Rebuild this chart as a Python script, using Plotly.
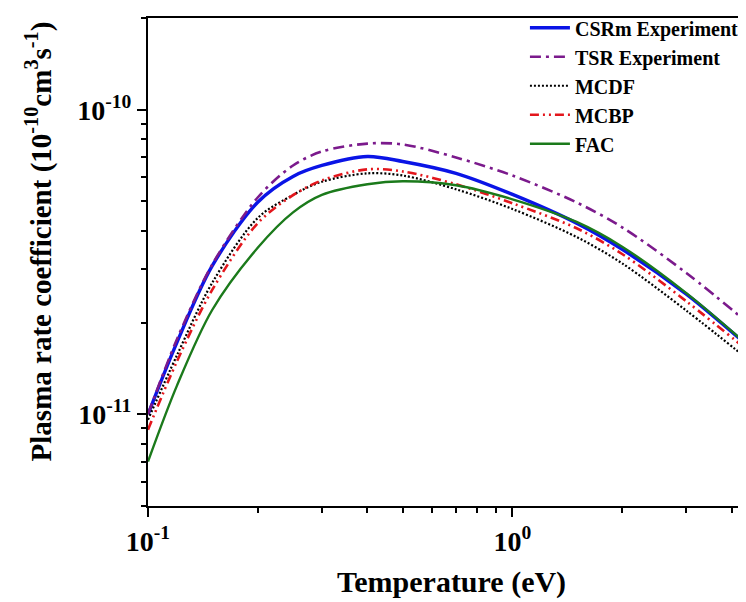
import plotly.graph_objects as go

temperature = [0.1, 0.12, 0.15, 0.2, 0.25, 0.3, 0.4, 0.5, 0.7, 1.0, 1.5, 2.0, 3.0, 4.6]

csrm = [1.00e-11, 1.72e-11, 3.07e-11, 4.97e-11, 6.04e-11, 6.56e-11, 7.02e-11, 6.76e-11,
        6.18e-11, 5.27e-11, 4.24e-11, 3.48e-11, 2.48e-11, 1.61e-11]
tsr = [1.00e-11, 1.76e-11, 3.10e-11, 5.15e-11, 6.56e-11, 7.29e-11, 7.74e-11, 7.69e-11,
       6.97e-11, 6.08e-11, 4.96e-11, 4.11e-11, 2.91e-11, 1.92e-11]
mcdf = [9.6e-12, 1.56e-11, 2.70e-11, 4.41e-11, 5.25e-11, 5.80e-11, 6.18e-11, 6.08e-11,
        5.48e-11, 4.72e-11, 3.82e-11, 3.13e-11, 2.19e-11, 1.46e-11]
mcbp = [8.9e-12, 1.49e-11, 2.56e-11, 4.24e-11, 5.24e-11, 5.86e-11, 6.37e-11, 6.27e-11,
        5.69e-11, 4.93e-11, 4.08e-11, 3.36e-11, 2.35e-11, 1.56e-11]
fac = [7.0e-12, 1.24e-11, 2.20e-11, 3.52e-11, 4.60e-11, 5.25e-11, 5.69e-11, 5.82e-11,
       5.65e-11, 5.08e-11, 4.28e-11, 3.55e-11, 2.50e-11, 1.62e-11]

series_names = ["CSRm Experiment", "TSR Experiment", "MCDF", "MCBP", "FAC"]

x_tickvals = [0.1, 1.0]
x_ticktext = ["10<sup>-1</sup>", "10<sup>0</sup>"]
x_minor = [0.2, 0.3, 0.4, 0.5, 0.6, 0.7, 0.8, 0.9, 2, 3, 4]
y_tickvals = [1e-11, 1e-10]
y_ticktext = ["10<sup>-11</sup>", "10<sup>-10</sup>"]
y_minor = [5e-12, 6e-12, 7e-12, 8e-12, 9e-12, 2e-11, 3e-11, 4e-11, 5e-11, 6e-11,
           7e-11, 8e-11, 9e-11, 2e-10]

FONT = "Liberation Serif"

styles = [
    dict(color="#0a14e6", width=3.4, dash="solid"),
    dict(color="#7b1a8c", width=2.6, dash="11px,5px,3px,5px"),
    dict(color="#000000", width=2.2, dash="2px,2px"),
    dict(color="#e3161c", width=2.6, dash="9px,4px,2px,4px,2px,4px"),
    dict(color="#1b7a1b", width=2.4, dash="solid"),
]

fig = go.Figure()
for name, vals, st in zip(series_names, [csrm, tsr, mcdf, mcbp, fac], styles):
    fig.add_trace(go.Scatter(
        x=temperature, y=vals, mode="lines", name=name,
        line=dict(color=st["color"], width=st["width"], dash=st["dash"], shape="spline", smoothing=0.9),
    ))

axis_common = dict(
    type="log", showgrid=False, zeroline=False,
    showline=True, linecolor="black", linewidth=2,
    ticks="outside", ticklen=9, tickwidth=2, tickcolor="black",
    tickfont=dict(family=FONT, size=28, color="black", weight="bold"),
)

fig.update_xaxes(
    **axis_common, range=[-1, 0.6628], mirror=True,
    tickmode="array", tickvals=x_tickvals, ticktext=x_ticktext,
    minor=dict(tickmode="array", tickvals=x_minor, ticks="outside", ticklen=5,
               tickwidth=1.5, tickcolor="black", showgrid=False),
)
fig.update_yaxes(
    **axis_common, range=[-11.301, -9.699], mirror=False,
    tickmode="array", tickvals=y_tickvals, ticktext=y_ticktext,
    minor=dict(tickmode="array", tickvals=y_minor, ticks="outside", ticklen=5,
               tickwidth=1.5, tickcolor="black", showgrid=False),
)

fig.update_layout(
    width=746, height=602,
    margin=dict(l=140, r=0, t=5, b=104),
    plot_bgcolor="white", paper_bgcolor="white",
    font=dict(family=FONT, color="black"),
    showlegend=True,
    legend=dict(
        x=0.622, y=1.02, xanchor="left", yanchor="top",
        bgcolor="rgba(0,0,0,0)", borderwidth=0,
        font=dict(family=FONT, size=20, color="black", weight="bold"),
        tracegroupgap=0, itemwidth=40,
    ),
    annotations=[
        dict(text="Temperature (eV)", xref="paper", yref="paper", x=0.5, y=-0.156,
             xanchor="center", yanchor="middle", showarrow=False,
             font=dict(family=FONT, size=30, color="black", weight="bold")),
        dict(text="Plasma rate coefficient (10<sup>-10</sup>cm<sup>3</sup>s<sup>-1</sup>)",
             xref="paper", yref="paper", x=-0.18, y=0.542, textangle=-90,
             xanchor="center", yanchor="middle", showarrow=False,
             font=dict(family=FONT, size=29, color="black", weight="bold")),
    ],
)

fig.write_html("out.html")
